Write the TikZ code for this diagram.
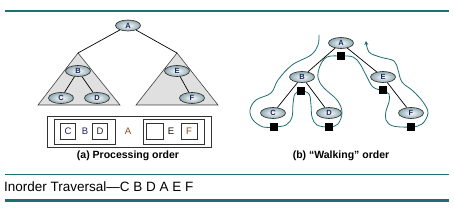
\documentclass[tikz,border=0pt]{standalone}
\usepackage{fontspec}
\setmainfont{Liberation Sans}
\usetikzlibrary{shapes.geometric,arrows.meta}
\definecolor{teal1}{HTML}{1F6E72}
\definecolor{ellfill}{HTML}{8FAAB2}
\definecolor{trifill}{HTML}{E0E0E0}
\definecolor{navy}{HTML}{1A2560}
\definecolor{brownf}{HTML}{8A4A14}
\tikzset{
  tn/.style={ellipse,draw=black!85,line width=0.6pt,inner color=white,outer color=ellfill,
    minimum width=25pt,minimum height=11pt,inner sep=0pt,font=\fontsize{7.5}{7.5}\selectfont\bfseries,text=navy},
  edge/.style={draw=black,line width=0.7pt},
  tri/.style={draw=black!75,fill=trifill,line width=0.6pt},
  sq/.style={rectangle,fill=black,minimum size=8pt,inner sep=0pt},
  box/.style={draw=black!80,line width=0.8pt},
  sbox/.style={rectangle,draw=black!80,line width=0.8pt,minimum width=15pt,minimum height=16pt,inner sep=0pt,font=\fontsize{9.5}{9.5}\selectfont},
  lbl/.style={font=\fontsize{9.5}{9.5}\selectfont},
  captext/.style={font=\fontsize{10.5}{10.5}\selectfont\bfseries},
  walk/.style={draw=teal1,line width=0.8pt},
}
\begin{document}
\begin{tikzpicture}[x=1pt,y=-1pt]
\useasboundingbox (0,0) rectangle (454,208);
% rules
\draw[teal1,line width=2pt] (5,11) -- (449,11);
\draw[teal1,line width=0.8pt] (5,174) -- (449,174);
\draw[teal1,line width=2.2pt] (5,200.5) -- (449,200.5);
\node[anchor=west,inner sep=0pt,font=\fontsize{13.5}{13.5}\selectfont] (inord) at (4,186.5) {Inorder Traversal—C B D A E F};

% ---------- (a) left tree ----------
\coordinate (ta) at (78,53);
\coordinate (tb) at (177,53);
\draw[tri] (ta) -- (38,105) -- (120,105) -- cycle;
\draw[tri] (tb) -- (136,105) -- (218,105) -- cycle;
\node[tn] (A1) at (128,25.5) {A};
\draw[edge] (A1) -- (ta);
\draw[edge] (A1) -- (tb);
\node[tn] (B1) at (78,71) {B};
\node[tn] (E1) at (177,71) {E};
\node[tn] (C1) at (61,98) {C};
\node[tn] (D1) at (97,98) {D};
\node[tn] (F1) at (192,98) {F};
\draw[edge] (B1) -- (C1);
\draw[edge] (B1) -- (D1);
\draw[edge] (E1) -- (F1);

% boxes
\draw[box] (47,116) rectangle (211,147);
\draw[box] (54,119) rectangle (115,144);
\draw[box] (143,119) rectangle (204,144);
\node[sbox,text=navy] (bc) at (68,131) {C};
\node[lbl,text=navy] (bb) at (85,131) {B};
\node[sbox,text=black!85] (bd) at (100,131) {D};
\node[lbl,text=brownf] (ba) at (128,131) {A};
\node[sbox,minimum width=17pt] (be) at (154.5,131) {};
\node[lbl,text=black!80!brownf] (bee) at (171,131) {E};
\node[sbox,text=brownf,minimum width=16pt] (bf) at (189,131) {F};
\node[captext] (capa) at (128,155.5) {(a) Processing order};

% ---------- (b) right tree ----------
\node[tn] (A2) at (341,43) {A};
\node[tn] (B2) at (302,77) {B};
\node[tn] (E2) at (383,77) {E};
\node[tn] (C2) at (273,113) {C};
\node[tn] (D2) at (329,113) {D};
\node[tn] (F2) at (411,113) {F};
\draw[edge] (A2) -- (B2);
\draw[edge] (A2) -- (E2);
\draw[edge] (B2) -- (C2);
\draw[edge] (B2) -- (D2);
\draw[edge] (E2) -- (F2);

\draw[walk,-{Stealth[length=4pt,width=4pt]}] plot[smooth,tension=0.6] coordinates {
 (319,35) (318,45) (311,55) (292,65) (278,80) (271,93) (256,100) (250,110) (253,120) (263,127) (274,127) (286,125) (292,117) (293,104) (295,94) (301,91) (309,94) (311,105) (312,117) (317,125) (329,127) (338,124) (342,112) (337,100) (324,88) (318,78) (320,66) (327,57) (341,56) (353,57) (360,64) (367,77) (373,87) (383,91) (389,94) (389,102) (386,111) (386,120) (393,126) (411,127) (422,124) (428,113) (423,102) (413,91) (402,82) (398,70) (394,61) (380,57) (369,52) (366,41)};

\node[sq] (s1) at (341,56) {};
\node[sq] (s2) at (301,91) {};
\node[sq] (s3) at (274,127) {};
\node[sq] (s4) at (329,127) {};
\node[sq] (s5) at (383,90.5) {};
\node[sq] (s6) at (411,127) {};
\node[captext] (capb) at (341,156) {(b) “Walking” order};
\end{tikzpicture}
\end{document}
